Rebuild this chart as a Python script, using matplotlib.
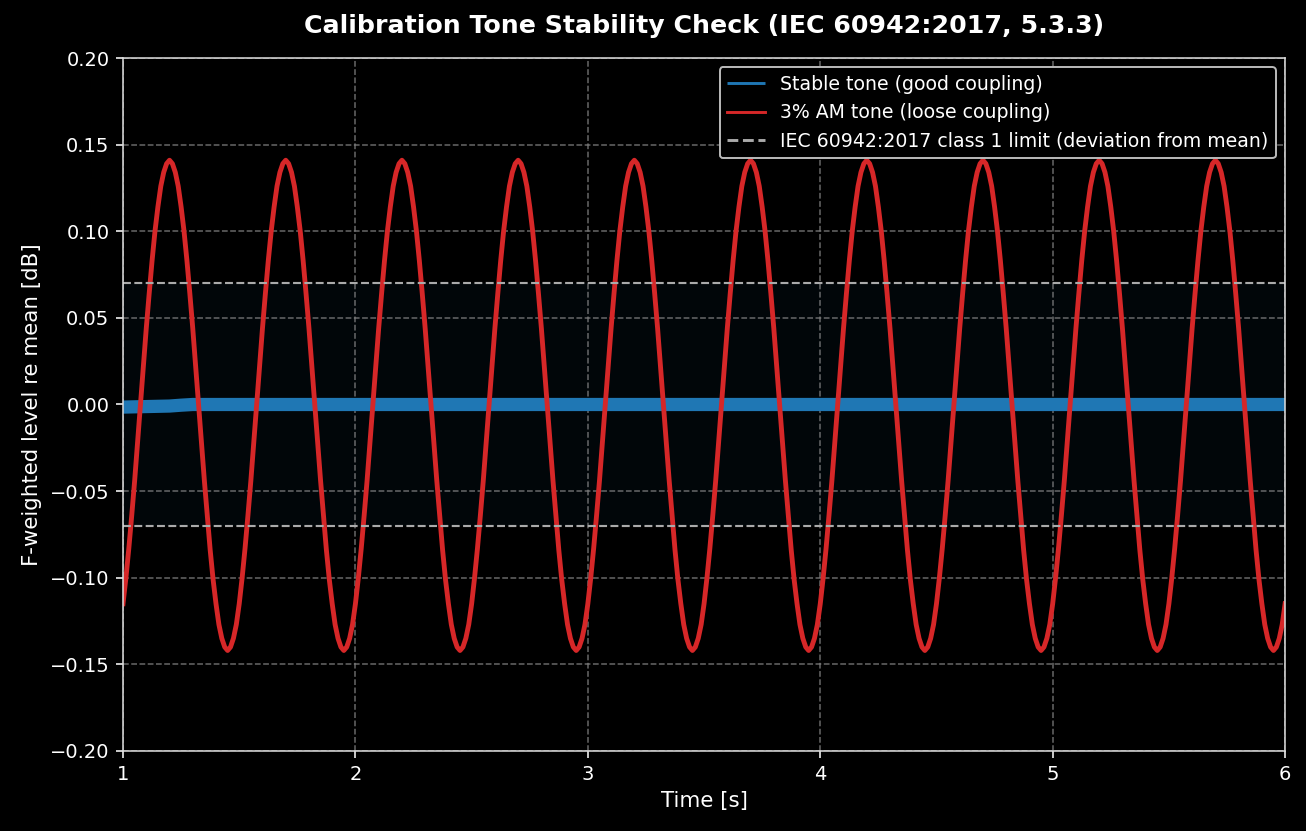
import numpy as np
import matplotlib
matplotlib.use("Agg")
import matplotlib.pyplot as plt

# stable tone, F-weighted level re mean [dB] (settles during first ~0.3 s)
t_stable = [1.0, 1.1, 1.2, 1.25, 1.3, 2.0, 3.0, 4.0, 5.0, 6.0]
lvl_stable = [-0.0015, -0.0012, -0.0009, -0.0004, 0.0, 0.0, 0.0, 0.0, 0.0, 0.0]

# 3% AM tone, sampled every 12.5 ms from 1 s to 6 s (one row per 0.5 s)
lvl_am = [
    -0.115, -0.100, -0.083, -0.064, -0.044, -0.022, 0.000, 0.022, 0.044, 0.064,
    0.083, 0.100, 0.114, 0.126, 0.134, 0.139, 0.141, 0.139, 0.134, 0.126,
    0.114, 0.100, 0.083, 0.064, 0.044, 0.022, 0.000, -0.022, -0.044, -0.064,
    -0.084, -0.101, -0.115, -0.127, -0.135, -0.140, -0.142, -0.140, -0.135, -0.127,
    -0.115, -0.100, -0.083, -0.064, -0.044, -0.022, 0.000, 0.022, 0.044, 0.064,
    0.083, 0.100, 0.114, 0.126, 0.134, 0.139, 0.141, 0.139, 0.134, 0.126,
    0.114, 0.100, 0.083, 0.064, 0.044, 0.022, 0.000, -0.022, -0.044, -0.064,
    -0.084, -0.101, -0.115, -0.127, -0.135, -0.140, -0.142, -0.140, -0.135, -0.127,
    -0.115, -0.100, -0.083, -0.064, -0.044, -0.022, 0.000, 0.022, 0.044, 0.064,
    0.083, 0.100, 0.114, 0.126, 0.134, 0.139, 0.141, 0.139, 0.134, 0.126,
    0.114, 0.100, 0.083, 0.064, 0.044, 0.022, 0.000, -0.022, -0.044, -0.064,
    -0.084, -0.101, -0.115, -0.127, -0.135, -0.140, -0.142, -0.140, -0.135, -0.127,
    -0.115, -0.100, -0.083, -0.064, -0.044, -0.022, 0.000, 0.022, 0.044, 0.064,
    0.083, 0.100, 0.114, 0.126, 0.134, 0.139, 0.141, 0.139, 0.134, 0.126,
    0.114, 0.100, 0.083, 0.064, 0.044, 0.022, 0.000, -0.022, -0.044, -0.064,
    -0.084, -0.101, -0.115, -0.127, -0.135, -0.140, -0.142, -0.140, -0.135, -0.127,
    -0.115, -0.100, -0.083, -0.064, -0.044, -0.022, 0.000, 0.022, 0.044, 0.064,
    0.083, 0.100, 0.114, 0.126, 0.134, 0.139, 0.141, 0.139, 0.134, 0.126,
    0.114, 0.100, 0.083, 0.064, 0.044, 0.022, 0.000, -0.022, -0.044, -0.064,
    -0.084, -0.101, -0.115, -0.127, -0.135, -0.140, -0.142, -0.140, -0.135, -0.127,
    -0.115, -0.100, -0.083, -0.064, -0.044, -0.022, 0.000, 0.022, 0.044, 0.064,
    0.083, 0.100, 0.114, 0.126, 0.134, 0.139, 0.141, 0.139, 0.134, 0.126,
    0.114, 0.100, 0.083, 0.064, 0.044, 0.022, 0.000, -0.022, -0.044, -0.064,
    -0.084, -0.101, -0.115, -0.127, -0.135, -0.140, -0.142, -0.140, -0.135, -0.127,
    -0.115, -0.100, -0.083, -0.064, -0.044, -0.022, 0.000, 0.022, 0.044, 0.064,
    0.083, 0.100, 0.114, 0.126, 0.134, 0.139, 0.141, 0.139, 0.134, 0.126,
    0.114, 0.100, 0.083, 0.064, 0.044, 0.022, 0.000, -0.022, -0.044, -0.064,
    -0.084, -0.101, -0.115, -0.127, -0.135, -0.140, -0.142, -0.140, -0.135, -0.127,
    -0.115, -0.100, -0.083, -0.064, -0.044, -0.022, 0.000, 0.022, 0.044, 0.064,
    0.083, 0.100, 0.114, 0.126, 0.134, 0.139, 0.141, 0.139, 0.134, 0.126,
    0.114, 0.100, 0.083, 0.064, 0.044, 0.022, 0.000, -0.022, -0.044, -0.064,
    -0.084, -0.101, -0.115, -0.127, -0.135, -0.140, -0.142, -0.140, -0.135, -0.127,
    -0.115, -0.100, -0.083, -0.064, -0.044, -0.022, 0.000, 0.022, 0.044, 0.064,
    0.083, 0.100, 0.114, 0.126, 0.134, 0.139, 0.141, 0.139, 0.134, 0.126,
    0.114, 0.100, 0.083, 0.064, 0.044, 0.022, 0.000, -0.022, -0.044, -0.064,
    -0.084, -0.101, -0.115, -0.127, -0.135, -0.140, -0.142, -0.140, -0.135, -0.127,
    -0.115, -0.100, -0.083, -0.064, -0.044, -0.022, 0.000, 0.022, 0.044, 0.064,
    0.083, 0.100, 0.114, 0.126, 0.134, 0.139, 0.141, 0.139, 0.134, 0.126,
    0.114, 0.100, 0.083, 0.064, 0.044, 0.022, 0.000, -0.022, -0.044, -0.064,
    -0.084, -0.101, -0.115, -0.127, -0.135, -0.140, -0.142, -0.140, -0.135, -0.127,
    -0.115,
]
t_am = np.linspace(1.0, 6.0, len(lvl_am))

limit = 0.07  # class 1 tolerance

plt.style.use("dark_background")
plt.rcParams["font.family"] = ["DejaVu Sans"]
fig = plt.figure(figsize=(1306 / 140, 831 / 140), dpi=140)
ax = fig.add_axes([0.0942, 0.0963, 0.8898, 0.8339])

ax.axhspan(-limit, limit, color="#1f77b4", alpha=0.05, lw=0)
ax.plot(t_stable, lvl_stable, color="#1f77b4", lw=6.8, solid_capstyle="butt",
        label="Stable tone (good coupling)")
ax.plot(t_am, lvl_am, color="#d62728", lw=2.5, label="3% AM tone (loose coupling)")
ax.axhline(limit, color="#aaaaaa", ls="--", lw=1.1,
           label="IEC 60942:2017 class 1 limit (deviation from mean)")
ax.axhline(-limit, color="#aaaaaa", ls="--", lw=1.1)

ax.set_xlim(1, 6)
ax.set_ylim(-0.2, 0.2)
ax.set_yticks(np.arange(-0.2, 0.201, 0.05))
ax.grid(True, ls="--", color="gray", alpha=0.8, lw=0.8)
ax.tick_params(labelsize=10)
for s in ax.spines.values():
    s.set_color("#dddddd")

ax.set_xlabel("Time [s]", fontsize=11)
ax.set_ylabel("F-weighted level re mean [dB]", fontsize=11)
ax.set_title("Calibration Tone Stability Check (IEC 60942:2017, 5.3.3)",
             fontsize=13, fontweight="bold", pad=13)

leg = ax.legend(loc="upper right", fontsize=9.7, facecolor="black",
                edgecolor="#bbbbbb", framealpha=1)
for line in leg.get_lines():
    line.set_linewidth(1.5)

fig.savefig("out.png", dpi=140)
